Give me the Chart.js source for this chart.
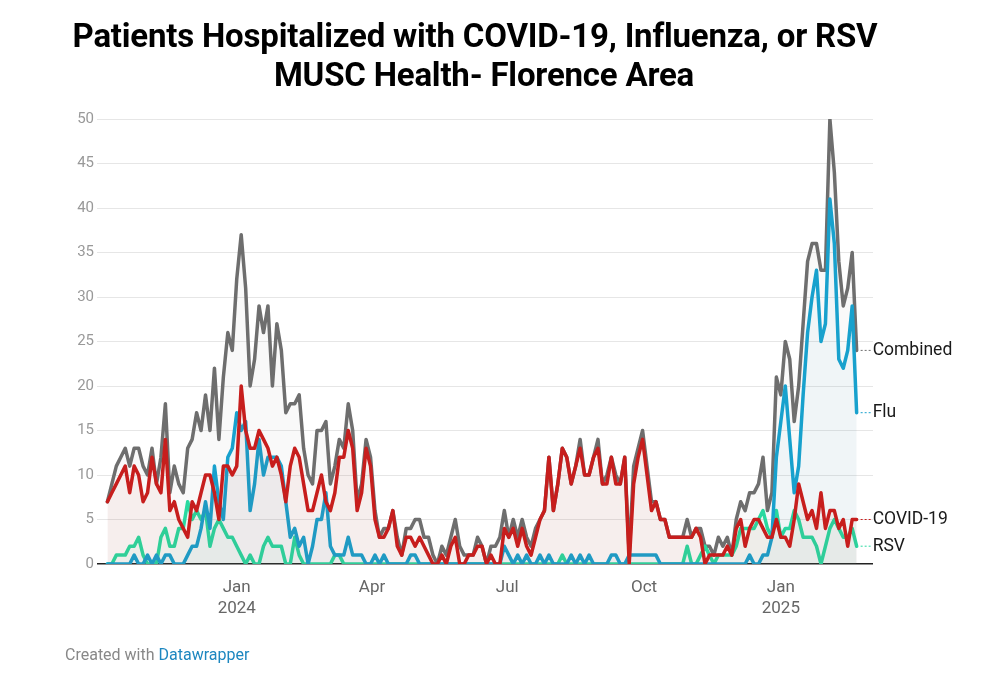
<!DOCTYPE html>
<html>
<head>
<meta charset="utf-8">
<script src="https://cdn.jsdelivr.net/npm/chart.js@4.4.1/dist/chart.umd.min.js"></script>
<style>
  body { margin: 0; background: #fff; font-family: Roboto, sans-serif; }
  #wrap { position: relative; width: 1000px; height: 675px; overflow: hidden; }
  #chart { position: absolute; left: 0; top: 0; }
  .title { position: absolute; font-weight: 700; font-size: 33px; line-height: 33px; color: #000; white-space: nowrap; text-align: center; letter-spacing: -0.2px; }
  #foot { position: absolute; left: 65px; top: 645px; font-size: 16px; color: #888; }
  #foot span { color: #1d87c0; }
</style>
</head>
<body>
<div id="wrap">
  <canvas id="chart" width="1000" height="675"></canvas>
  <div class="title" style="left:0;width:950px;top:19px;">Patients Hospitalized with COVID-19, Influenza, or RSV</div>
  <div class="title" style="left:0;width:968px;top:58px;">MUSC Health- Florence Area</div>
  <div id="foot">Created with <span>Datawrapper</span></div>
</div>
<script>
// days counted from 1 Jan 2024, one reading every 3 days starting 6 Oct 2023
const startDay = -87;
const stepDays = 3;

const combined = [
  7,9,11,12,13,11,13,13,11,10,13,9,12,18,8,11,9,8,13,14,17,15,19,15,22,14,21,26,
  24,32,37,31,20,23,29,26,29,20,27,24,17,18,18,19,13,10,9,15,15,16,9,11,14,13,18,15,
  7,9,14,12,6,3,4,4,6,3,1,4,4,5,5,3,3,1,0,2,1,3,5,2,1,1,1,3,
  2,0,2,2,3,6,3,5,3,5,3,2,4,5,6,12,6,9,13,12,9,11,14,10,10,12,14,9,
  10,12,10,9,12,1,11,13,15,11,7,7,5,5,3,3,3,3,5,3,4,4,2,2,1,3,2,3,
  1,5,7,6,8,8,9,12,6,8,21,19,25,23,16,20,27,34,36,36,33,33,50,44,34,29,31,35,24
];
const flu = [
  0,0,0,0,0,0,1,0,0,1,0,1,0,1,1,0,0,0,1,2,2,4,7,4,11,7,5,12,
  13,17,15,16,6,9,14,10,12,12,12,11,7,3,4,2,3,0,2,5,5,8,2,1,1,1,3,1,
  1,1,0,0,1,0,1,0,0,0,0,0,1,1,0,0,0,0,0,0,0,0,0,0,0,0,0,0,
  0,0,0,0,0,2,1,0,1,0,1,0,0,1,0,1,0,0,0,0,1,0,1,0,1,0,0,0,
  0,1,1,0,0,1,1,1,1,1,1,1,0,0,0,0,0,0,0,0,0,0,0,0,0,0,0,0,
  0,0,0,0,1,0,0,1,1,3,12,16,20,14,8,11,19,26,30,33,25,27,41,36,23,22,24,29,17
];
const covid = [
  7,8,9,10,11,8,11,10,7,8,12,9,8,14,6,7,5,4,3,7,6,8,10,10,8,5,11,11,
  10,11,20,15,13,13,15,14,13,11,12,10,7,11,13,12,9,6,6,8,10,7,6,8,12,12,15,13,
  6,8,13,11,5,3,3,4,6,2,1,3,3,2,3,2,1,0,0,1,0,2,3,0,0,1,1,2,
  2,0,1,0,0,4,3,4,2,4,2,1,3,5,6,12,6,9,13,12,9,11,13,10,10,12,13,9,
  9,12,9,9,12,0,9,12,14,10,6,7,5,5,3,3,3,3,3,3,4,3,0,1,1,1,1,2,
  1,4,5,2,4,5,5,4,3,3,5,3,3,2,5,9,7,5,6,4,8,4,6,6,4,5,2,5,5
];
const rsv = [
  0,0,1,1,1,2,2,3,1,0,0,0,3,4,2,2,4,4,7,5,6,5,6,2,4,5,4,3,
  3,2,1,0,1,0,0,2,3,2,2,2,0,0,3,1,0,0,0,0,0,0,0,1,1,0,0,0,
  0,0,0,0,0,0,0,0,0,0,0,0,0,0,0,0,0,0,0,0,0,0,0,0,0,0,0,0,
  0,0,0,0,0,0,0,0,0,0,0,0,0,0,0,0,0,0,1,0,0,0,0,0,0,0,0,0,
  0,0,0,0,0,0,0,0,0,0,0,0,0,0,0,0,0,0,2,0,0,1,2,1,0,1,1,1,
  1,2,4,4,4,4,5,6,4,3,6,3,4,4,6,5,3,3,3,2,0,2,4,5,4,3,3,4,2
];

const tickDays = [0, 91, 182, 274, 366];
const tickLabels = [['Jan', '2024'], 'Apr', 'Jul', 'Oct', ['Jan', '2025']];
const yTicks = [0, 5, 10, 15, 20, 25, 30, 35, 40, 45, 50];

const days = combined.map((v, i) => startDay + i * stepDays);
const pts = arr => arr.map((v, i) => ({ x: days[i], y: v }));

function line(label, values, color, fillColor) {
  return {
    label: label,
    data: pts(values),
    borderColor: color,
    backgroundColor: fillColor,
    borderWidth: 3.5,
    pointRadius: 0,
    tension: 0,
    borderJoinStyle: 'round',
    borderCapStyle: 'round',
    fill: 'origin'
  };
}

const endLabels = {
  id: 'endLabels',
  afterDatasetsDraw(chart) {
    const ctx = chart.ctx;
    const xs = chart.scales.x, ys = chart.scales.y;
    chart.data.datasets.forEach(ds => {
      const last = ds.data[ds.data.length - 1];
      const px = xs.getPixelForValue(last.x);
      const py = ys.getPixelForValue(last.y);
      ctx.save();
      ctx.strokeStyle = ds.borderColor;
      ctx.lineWidth = 1;
      ctx.setLineDash([2, 2]);
      ctx.beginPath();
      ctx.moveTo(px + 4, py);
      ctx.lineTo(px + 14, py);
      ctx.stroke();
      ctx.setLineDash([]);
      ctx.fillStyle = '#1a1a1a';
      ctx.font = '17.5px Roboto';
      ctx.textBaseline = 'middle';
      ctx.fillText(ds.label, px + 16, py);
      ctx.restore();
    });
  }
};

new Chart(document.getElementById('chart'), {
  type: 'line',
  data: {
    datasets: [
      line('COVID-19', covid, '#c71e1d', 'rgba(199,30,29,0.05)'),
      line('Flu', flu, '#18a1cd', 'rgba(24,161,205,0.04)'),
      line('RSV', rsv, '#29d9a0', 'rgba(41,217,160,0.04)'),
      line('Combined', combined, '#6e6e6e', 'rgba(110,110,110,0.04)')
    ]
  },
  options: {
    responsive: false,
    animation: false,
    devicePixelRatio: 1,
    layout: { padding: { left: 0, right: 127, top: 119, bottom: 61 } },
    plugins: { legend: { display: false }, tooltip: { enabled: false } },
    scales: {
      x: {
        type: 'linear',
        min: -94,
        max: 428,
        grid: { display: false },
        border: { display: false },
        afterFit: s => { s.height = 50; },
        afterBuildTicks: s => { s.ticks = tickDays.map(v => ({ value: v })); },
        ticks: {
          autoSkip: false,
          maxRotation: 0,
          padding: 6,
          color: '#666',
          font: { family: 'Roboto', size: 17 },
          callback: (v) => tickLabels[tickDays.indexOf(v)]
        }
      },
      y: {
        min: 0,
        max: 50,
        afterFit: s => { s.width = 97; },
        afterBuildTicks: s => { s.ticks = yTicks.map(v => ({ value: v })); },
        border: { display: false },
        grid: {
          drawTicks: false,
          color: c => c.tick.value === 0 ? '#222' : '#e6e6e6',
          lineWidth: c => c.tick.value === 0 ? 1.5 : 1
        },
        ticks: {
          padding: 3,
          color: '#999',
          font: { family: 'Roboto', size: 15 }
        }
      }
    }
  },
  plugins: [endLabels]
});
</script>
</body>
</html>
